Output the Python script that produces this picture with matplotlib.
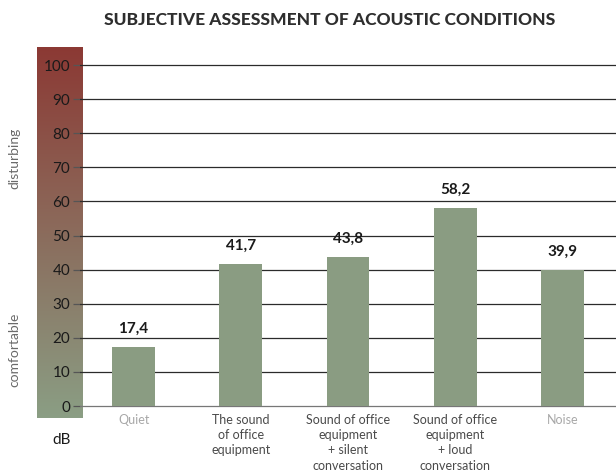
"""Subjective assessment of acoustic conditions: bar chart with a dB gradient scale."""

import matplotlib

matplotlib.use("Agg")
import matplotlib.pyplot as plt
import numpy as np
from matplotlib.colors import LinearSegmentedColormap

categories = [
    "Quiet",
    "The sound\nof office\nequipment",
    "Sound of office\nequipment\n+ silent\nconversation",
    "Sound of office\nequipment\n+ loud\nconversation",
    "Noise",
]
values = [17.4, 41.7, 43.8, 58.2, 39.9]
value_labels = ["17,4", "41,7", "43,8", "58,2", "39,9"]
y_ticks = [0, 10, 20, 30, 40, 50, 60, 70, 80, 90, 100]

BAR_COLOR = "#8a9c82"
GRAD_TOP = "#8c3934"
GRAD_BOTTOM = "#8a9e84"
FONT = ["Lato", "DejaVu Sans"]

plt.rcParams["font.family"] = FONT

fig = plt.figure(figsize=(6.16, 4.72), dpi=100)
W, H = 616, 472

# main plot area in pixel units -> figure fractions
y_lo, y_hi = -3.5, 105.3
ax_left, ax_right = 80 / W, 616 / W
ax_bottom, ax_top = (H - 418) / H, (H - 47) / H
ax = fig.add_axes([ax_left, ax_bottom, ax_right - ax_left, ax_top - ax_bottom])

# gradient strip behind the tick labels
gax = fig.add_axes([37 / W, ax_bottom, 46 / W, ax_top - ax_bottom], zorder=0)
cmap = LinearSegmentedColormap.from_list("db", [GRAD_BOTTOM, GRAD_TOP])
grad = np.linspace(0, 1, 256).reshape(-1, 1)
gax.imshow(grad, aspect="auto", cmap=cmap, origin="lower", extent=[0, 1, 0, 1])
gax.axis("off")
ax.set_zorder(1)
ax.patch.set_alpha(0)

x = np.arange(len(categories))
ax.bar(x, values, width=0.4, color=BAR_COLOR, zorder=3)
for xi, v, lab in zip(x, values, value_labels):
    ax.text(xi, v + 3.2, lab, ha="center", va="bottom", fontsize=11,
            fontweight="bold", color="#1a1a1a")

ax.set_xlim(-0.5, len(categories) - 0.5)
ax.set_ylim(y_lo, y_hi)
ax.set_yticks(y_ticks)
ax.set_yticklabels([str(t) for t in y_ticks], fontsize=11, color="#1a1a1a")
for t in y_ticks:
    ax.axhline(t, color="#2b2b2b" if t else "#777777", linewidth=0.9, zorder=2)
ax.tick_params(axis="y", length=5, width=0.9, color="#555555", pad=2)

ax.set_xticks(x)
ax.set_xticklabels(categories, fontsize=9, linespacing=1.33)
label_colors = ["#a8a8a8", "#4a4a4a", "#4a4a4a", "#4a4a4a", "#a8a8a8"]
for lbl, c in zip(ax.get_xticklabels(), label_colors):
    lbl.set_color(c)
ax.tick_params(axis="x", length=0, pad=-3)

for s in ax.spines.values():
    s.set_visible(False)

fig.text(330 / W, 1 - 20 / H, "SUBJECTIVE ASSESSMENT OF ACOUSTIC CONDITIONS",
         ha="center", va="center", fontsize=12.5, fontweight="black", color="#2e2e2e")
fig.text(14 / W, 1 - 158 / H, "disturbing", rotation=90, ha="center", va="center",
         fontsize=10, color="#6a6a6a")
fig.text(14 / W, 1 - 350 / H, "comfortable", rotation=90, ha="center", va="center",
         fontsize=10, color="#6a6a6a")
fig.text(62 / W, 1 - 440 / H, "dB", ha="center", va="center", fontsize=11,
         color="#1a1a1a")

fig.savefig("out.png", dpi=100)
